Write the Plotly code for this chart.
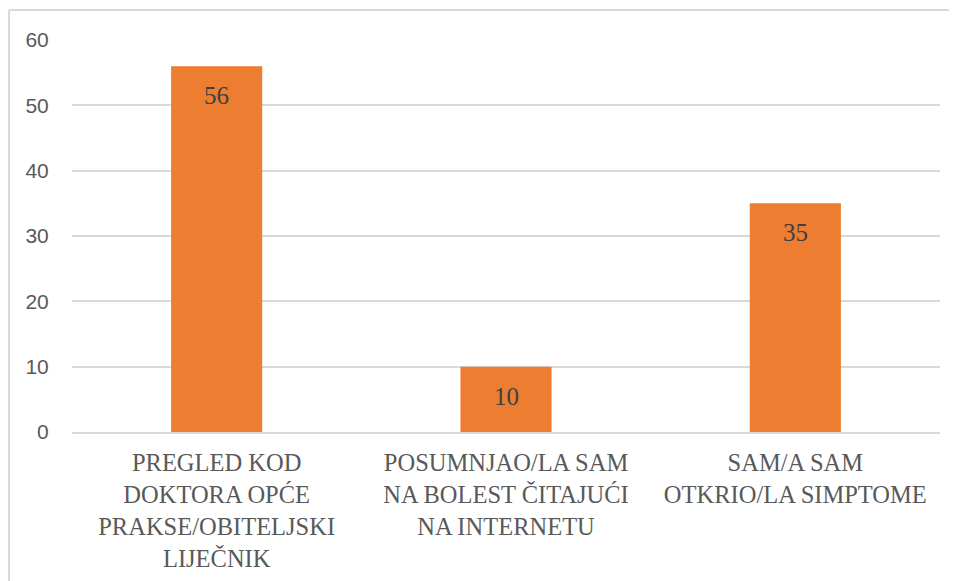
import plotly.graph_objects as go

categories = [
    "PREGLED KOD<br>DOKTORA OPĆE<br>PRAKSE/OBITELJSKI<br>LIJEČNIK",
    "POSUMNJAO/LA SAM<br>NA BOLEST ČITAJUĆI<br>NA INTERNETU",
    "SAM/A SAM<br>OTKRIO/LA SIMPTOME",
]
values = [56, 10, 35]
y_ticks = [0, 10, 20, 30, 40, 50, 60]

SERIF = "'Times New Roman', 'Liberation Serif', 'DejaVu Serif', serif"
SANS = "'Liberation Sans', Arial, sans-serif"

# page body has an 8px default margin, so the figure is placed at (8, 8)
W, H = 949, 573
L, R, T, B = 64, 17, 32, 149
pw, ph = W - L - R, H - T - B

fig = go.Figure()
fig.add_trace(go.Bar(
    x=categories,
    y=values,
    marker=dict(color="#ED7D31", line=dict(width=0)),
    width=0.315,
))

for c, v in zip(categories, values):
    fig.add_annotation(
        x=c, y=v, text=str(v), showarrow=False,
        yanchor="top", yshift=-14,
        font=dict(family=SERIF, size=25, color="#404040"),
    )

fig.update_layout(
    width=W,
    height=H,
    margin=dict(l=L, r=R, t=T, b=B, autoexpand=False),
    paper_bgcolor="white",
    plot_bgcolor="white",
    showlegend=False,
    xaxis=dict(
        automargin=False,
        showgrid=False,
        showline=True,
        linecolor="#D9D9D9",
        linewidth=2,
        ticks="outside",
        ticklen=8,
        tickcolor="rgba(0,0,0,0)",
        tickfont=dict(family=SERIF, size=24.5, color="#595959"),
        tickangle=0,
    ),
    yaxis=dict(
        automargin=False,
        range=[0, 60],
        tickvals=y_ticks,
        showgrid=True,
        gridcolor="#D9D9D9",
        gridwidth=2,
        zeroline=False,
        showline=False,
        ticks="outside",
        ticklen=18,
        tickcolor="rgba(0,0,0,0)",
        tickfont=dict(family=SANS, size=21, color="#595959"),
    ),
    shapes=[
        dict(type="line", xref="paper", yref="paper",
             x0=(1 - L) / pw, x1=(W - L) / pw,
             y0=(ph + T - 2) / ph, y1=(ph + T - 2) / ph,
             line=dict(color="#D9D9D9", width=2)),
        dict(type="line", xref="paper", yref="paper",
             x0=(1 - L) / pw, x1=(1 - L) / pw,
             y0=(ph + T - 2) / ph, y1=-B / ph,
             line=dict(color="#D9D9D9", width=2)),
    ],
)

fig.write_html("out.html")
